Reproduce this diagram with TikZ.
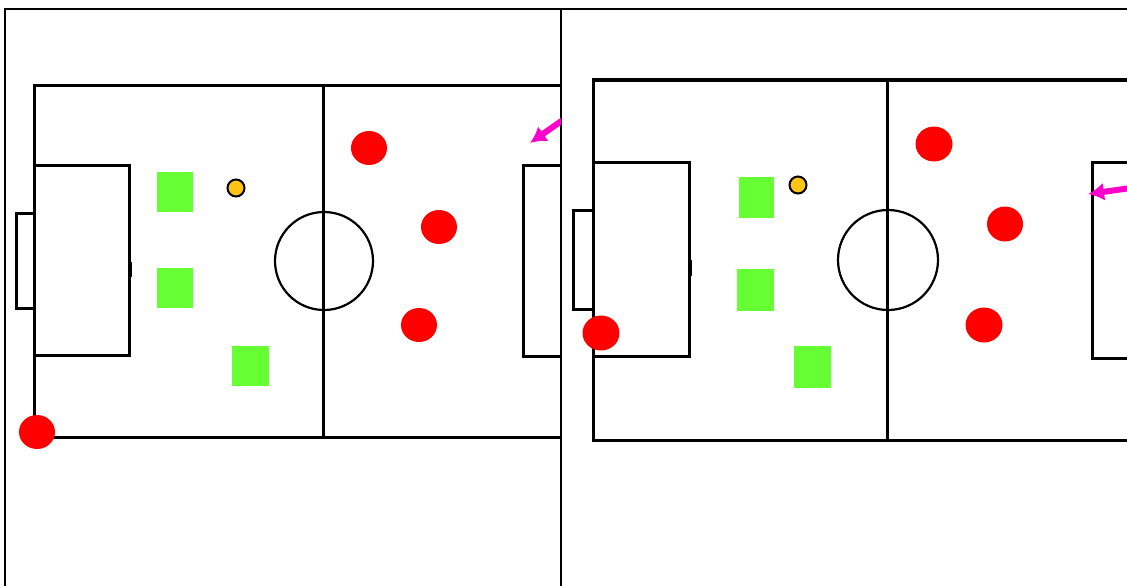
\documentclass[tikz,border=0pt]{standalone}
\usepackage{xcolor}
\usepackage{tikz}
\usetikzlibrary{arrows.meta}

\definecolor{keeper}{RGB}{102,255,51}
\definecolor{ballc}{RGB}{255,196,20}
\definecolor{runc}{RGB}{255,0,204}

\begin{document}
\begin{tikzpicture}[x=1pt, y=-1pt,
    panelline/.style={line width=1.5pt},
    pitchline/.style={line width=3pt},
    circline/.style={line width=2.2pt},
    defender/.style={fill=keeper, draw=none},
    attacker/.style={fill=red, draw=none},
    ballmark/.style={fill=ballc, draw=black, line width=2pt},
    runarrow/.style={draw=runc, line width=6pt, -{Latex[length=16pt,width=18pt]}}]
  \useasboundingbox (0,0) rectangle (1127,586);

  % Panel frames
  \draw[panelline] (5,586) -- (5,9) -- (1127,9);
  \draw[panelline] (561,9) -- (561,586);

  % Left panel
  \begin{scope}
    \clip (5,9) rectangle (561,586);
    \draw[pitchline] (34,85) rectangle (612,437);
    \draw[pitchline] (323,85) -- (323,437);
    \draw[circline] (324,261) circle (49);
    \draw[pitchline] (34,165) rectangle (129,355);
    \draw[pitchline] (34,213) -- (16,213) -- (16,308) -- (34,308);
    \fill (129,262) rectangle (132,277);
    \draw[pitchline] (612,165) -- (523,165) -- (523,356) -- (612,356);
    % players
    \fill[defender] (157,172) rectangle (193,212);
    \fill[defender] (157,268) rectangle (193,308);
    \fill[defender] (232,346) rectangle (269,386);
    \fill[attacker] (369,148) ellipse (18 and 17);
    \fill[attacker] (439,227) ellipse (18 and 17);
    \fill[attacker] (419,325) ellipse (18 and 17);
    \fill[attacker] (37,432) ellipse (18 and 17);
    \draw[ballmark] (236,188) circle (8.5);
    \coordinate (runA1) at (580,108);
    \coordinate (runA2) at (530,143);
    \draw[runarrow] (runA1) -- (runA2);
  \end{scope}

  % Right panel
  \begin{scope}
    \clip (561,9) rectangle (1127,586);
    \draw[pitchline] (593,80) rectangle (1181,440);
    \draw[pitchline] (887,80) -- (887,440);
    \draw[circline] (888,260) circle (50);
    \draw[pitchline] (593,162) rectangle (689,356);
    \draw[pitchline] (593,210) -- (573,210) -- (573,309) -- (593,309);
    \fill (689,260) rectangle (692,276);
    \draw[pitchline] (1181,162) -- (1092,162) -- (1092,358) -- (1181,358);
    % players
    \fill[defender] (739,177) rectangle (774,218);
    \fill[defender] (737,269) rectangle (774,311);
    \fill[defender] (794,346) rectangle (831,388);
    \fill[attacker] (934,144) ellipse (18.5 and 17.5);
    \fill[attacker] (1005,224) ellipse (18 and 17.5);
    \fill[attacker] (984,325) ellipse (18.5 and 17.5);
    \fill[attacker] (601,333) ellipse (18.5 and 17.5);
    \draw[ballmark] (798,185) circle (8.5);
    \coordinate (runB1) at (1145,186);
    \coordinate (runB2) at (1088,194);
    \draw[runarrow] (runB1) -- (runB2);
  \end{scope}
\end{tikzpicture}
\end{document}
